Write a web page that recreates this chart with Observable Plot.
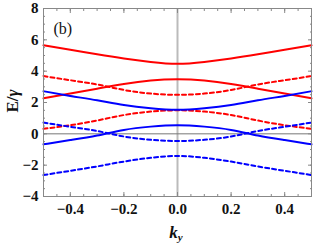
<!DOCTYPE html>
<html>
<head>
<meta charset="utf-8">
<script src="https://cdn.jsdelivr.net/npm/d3@7"></script>
<script src="https://cdn.jsdelivr.net/npm/@observablehq/plot@0.6"></script>
<style>
  body { margin: 0; background: #fff; }
  #chart svg { display: block; }
</style>
</head>
<body>
<div id="chart"></div>
<script>
// k_y sample points
const ky = [-0.5, -0.4, -0.3, -0.2, -0.1, 0, 0.1, 0.2, 0.3, 0.4, 0.5];
// energy bands E/γ
const redSolidUpper  = [5.65, 5.37, 5.08, 4.81, 4.59, 4.47, 4.59, 4.81, 5.08, 5.37, 5.65];
const redSolidLower  = [2.27, 2.57, 2.88, 3.18, 3.40, 3.48, 3.40, 3.18, 2.88, 2.57, 2.27];
const redDashUpper   = [3.69, 3.42, 3.15, 2.80, 2.57, 2.49, 2.57, 2.80, 3.15, 3.42, 3.69];
const redDashLower   = [0.32, 0.55, 0.85, 1.20, 1.42, 1.50, 1.42, 1.20, 0.85, 0.55, 0.32];
const blueSolidUpper = [2.72, 2.42, 2.14, 1.84, 1.63, 1.53, 1.63, 1.84, 2.14, 2.42, 2.72];
const blueSolidLower = [-0.67, -0.40, -0.11, 0.25, 0.46, 0.55, 0.46, 0.25, -0.11, -0.40, -0.67];
const blueDashUpper  = [0.72, 0.45, 0.18, -0.17, -0.38, -0.46, -0.38, -0.17, 0.18, 0.45, 0.72];
const blueDashLower  = [-2.63, -2.36, -2.08, -1.77, -1.53, -1.41, -1.53, -1.77, -2.08, -2.36, -2.63];

const xTicks = [-0.4, -0.2, 0, 0.2, 0.4];
const yTicks = [-4, -2, 0, 2, 4, 6, 8];
const xMinor = d3.range(-10, 11).map(i => i * 0.05);
const yMinor = d3.range(-8, 17).map(i => i * 0.5);

const series = [
  {values: redSolidUpper, color: "#ff0000", dash: null},
  {values: redSolidLower, color: "#ff0000", dash: null},
  {values: redDashUpper, color: "#ff0000", dash: "4,3"},
  {values: redDashLower, color: "#ff0000", dash: "4,3"},
  {values: blueSolidUpper, color: "#0000ff", dash: null},
  {values: blueSolidLower, color: "#0000ff", dash: null},
  {values: blueDashUpper, color: "#0000ff", dash: "4,3"},
  {values: blueDashLower, color: "#0000ff", dash: "4,3"}
];

const fmtX = d => {
  const s = d3.format(".1f")(Math.abs(d));
  return d < 0 ? "\u2212" + s : s;
};
const fmtY = d => d < 0 ? "\u2212" + Math.abs(d) : String(d);

const tickColor = "#888";
const Lmaj = 4, Lmin = 2;
const tk = {fill: "none", stroke: tickColor, label: null};

const marks = [
  Plot.ruleX([0], {stroke: "#bbb", strokeWidth: 2}),
  Plot.ruleY([0], {stroke: "#777", strokeWidth: 1}),
  ...series.map(s => Plot.line(ky.map((k, i) => ({k, e: s.values[i]})), {
    x: "k", y: "e", stroke: s.color, strokeWidth: 2,
    strokeDasharray: s.dash, curve: "natural"
  })),
  Plot.frame({stroke: tickColor}),
  // inward ticks on all four sides
  Plot.axisX({anchor: "bottom", ticks: xMinor, tickSize: Lmin, dy: -Lmin, ...tk}),
  Plot.axisX({anchor: "top", ticks: xMinor, tickSize: Lmin, dy: Lmin, ...tk}),
  Plot.axisX({anchor: "bottom", ticks: xTicks, tickSize: Lmaj, dy: -Lmaj, ...tk}),
  Plot.axisX({anchor: "top", ticks: xTicks, tickSize: Lmaj, dy: Lmaj, ...tk}),
  Plot.axisY({anchor: "left", ticks: yMinor, tickSize: Lmin, dx: Lmin, ...tk}),
  Plot.axisY({anchor: "right", ticks: yMinor, tickSize: Lmin, dx: -Lmin, ...tk}),
  Plot.axisY({anchor: "left", ticks: yTicks, tickSize: Lmaj, dx: Lmaj, ...tk}),
  Plot.axisY({anchor: "right", ticks: yTicks, tickSize: Lmaj, dx: -Lmaj, ...tk}),
  // tick labels
  Plot.axisX({anchor: "bottom", ticks: xTicks, tickSize: 0, tickPadding: 7, tickFormat: fmtX, label: null, fill: "#111"}),
  Plot.axisY({anchor: "left", ticks: yTicks, tickSize: 0, tickPadding: 5, tickFormat: fmtY, label: null, fill: "#111"}),
  Plot.text(["(b)"], {frameAnchor: "top-left", lineAnchor: "middle", dx: 10, dy: 20, fontWeight: "normal", fontSize: 16, fill: "#111"})
];

const chart = Plot.plot({
  width: 316,
  height: 245,
  marginLeft: 43,
  marginRight: 5,
  marginTop: 8,
  marginBottom: 49,
  x: {domain: [-0.5, 0.5]},
  y: {domain: [-4, 8]},
  style: {fontFamily: "'Liberation Serif', serif", fontSize: "15px", fontWeight: "bold", background: "#fff", color: "#111"},
  marks
});

const svg = d3.select(chart);
// y label: E/γ (rotated)
const yl = svg.append("text")
  .attr("transform", "translate(18,101) rotate(-90)")
  .attr("text-anchor", "middle")
  .attr("font-family", "'Liberation Serif', serif")
  .attr("font-size", 17)
  .attr("font-weight", "bold")
  .attr("fill", "#111");
yl.append("tspan").text("E/");
yl.append("tspan").attr("font-style", "italic").text("γ");
// x label: k_y
const xl = svg.append("text")
  .attr("x", 176)
  .attr("y", 238)
  .attr("text-anchor", "middle")
  .attr("font-family", "'Liberation Serif', serif")
  .attr("font-size", 17)
  .attr("font-weight", "bold")
  .attr("font-style", "italic")
  .attr("fill", "#111");
xl.append("tspan").text("k");
xl.append("tspan").attr("font-size", 11).attr("dy", 3).text("y");

document.getElementById("chart").appendChild(chart);
</script>
</body>
</html>
